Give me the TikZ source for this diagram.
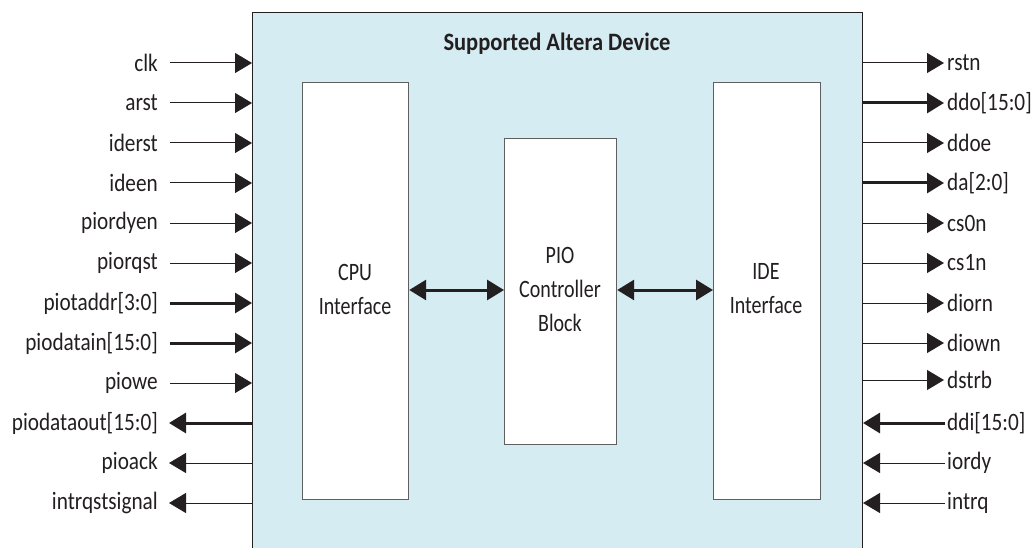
\documentclass[tikz,border=0pt]{standalone}
\usepackage{fontspec}
\setmainfont{Carlito}
\newfontfamily\condfont[FakeStretch=0.85]{Carlito}
\newfontfamily\titlefont[FakeStretch=0.9]{Carlito}
\newfontfamily\narrowfont[FakeStretch=0.8]{Carlito}
\usetikzlibrary{arrows.meta}
\definecolor{devfill}{RGB}{213,236,243}
\definecolor{ink}{RGB}{35,31,32}
\definecolor{boxline}{RGB}{95,95,95}
\begin{document}
\begin{tikzpicture}[x=1pt,y=-1pt,
  tip/.style={-{Triangle[length=17pt,width=20pt]}},
  sig/.style={draw=ink,line width=1pt,tip},
  bus/.style={draw=ink,line width=3pt,tip},
  lbl/.style={font=\condfont\fontsize{25}{27}\selectfont,text=ink,inner sep=0pt},
  blk/.style={draw=boxline,line width=1.2pt,fill=white,anchor=north west,inner sep=0pt},
  blktxt/.style={font=\narrowfont\fontsize{25}{34}\selectfont,text=ink,align=center}]
\useasboundingbox (0,0) rectangle (1033,548);
\begin{scope}
\clip (0,0) rectangle (1033,548);
\node[draw=ink,line width=1pt,fill=devfill,anchor=north west,minimum width=610pt,minimum height=600pt,inner sep=0pt] (dev) at (252,12) {};
\end{scope}
\node[lbl,font=\titlefont\fontsize{25}{27}\selectfont\bfseries] (title) at (557,44) {Supported Altera Device};
% inner blocks
\node[blk,minimum width=106pt,minimum height=417pt] (cpu) at (302,82) {};
\node[blk,minimum width=112pt,minimum height=306pt] (pio) at (504,138) {};
\node[blk,minimum width=107pt,minimum height=417pt] (ide) at (713,82) {};
\node[blktxt] (cputxt) at (355,289) {CPU\\Interface};
\node[blktxt] (piotxt) at (560,289) {PIO\\Controller\\Block};
\node[blktxt] (idetxt) at (766,289) {IDE\\Interface};
\draw[draw=ink,line width=3pt,{Triangle[length=17pt,width=20pt]}-{Triangle[length=17pt,width=20pt]}] (cpu.east |- 0,290) -- (pio.west |- 0,290);
\draw[draw=ink,line width=3pt,{Triangle[length=17pt,width=20pt]}-{Triangle[length=17pt,width=20pt]}] (pio.east |- 0,290) -- (ide.west |- 0,290);
% left inputs
\foreach \n/\t/\y/\s in {clk/clk/63/sig, arst/arst/103/sig, iderst/iderst/143/sig, ideen/ideen/183/sig, piordyen/piordyen/223/sig, piorqst/piorqst/263/sig, piotaddr/{piotaddr[3:0]}/303/bus, piodatain/{piodatain[15:0]}/343/bus, piowe/piowe/383/sig}{
  \node[lbl,anchor=east] (L\n) at (158,\y) {\t};
  \coordinate (Ls\n) at (170,\y);
  \draw[\s] (Ls\n) -- (dev.west |- Ls\n);
}
% left outputs
\foreach \n/\t/\y/\s in {piodataout/{piodataout[15:0]}/423/bus, pioack/pioack/463/sig, intrqstsignal/intrqstsignal/503/sig}{
  \node[lbl,anchor=east] (L\n) at (158,\y) {\t};
  \coordinate (Ls\n) at (169,\y);
  \draw[\s] (dev.west |- Ls\n) -- (Ls\n);
}
% right outputs
\foreach \n/\t/\y/\s in {rstn/rstn/63/sig, ddo/{ddo[15:0]}/103/bus, ddoe/ddoe/143/sig, da/{da[2:0]}/183/bus, cs0n/cs0n/223/sig, cs1n/cs1n/263/sig, diorn/diorn/303/sig, diown/diown/343/sig, dstrb/dstrb/380/sig}{
  \node[lbl,anchor=west] (R\n) at (947,\y) {\t};
  \coordinate (Rs\n) at (944,\y);
  \draw[\s] (dev.east |- Rs\n) -- (Rs\n);
}
% right inputs
\foreach \n/\t/\y/\s in {ddi/{ddi[15:0]}/423/bus, iordy/iordy/463/sig, intrq/intrq/503/sig}{
  \node[lbl,anchor=west] (R\n) at (947,\y) {\t};
  \coordinate (Rs\n) at (945,\y);
  \draw[\s] (Rs\n) -- (dev.east |- Rs\n);
}
\end{tikzpicture}
\end{document}
